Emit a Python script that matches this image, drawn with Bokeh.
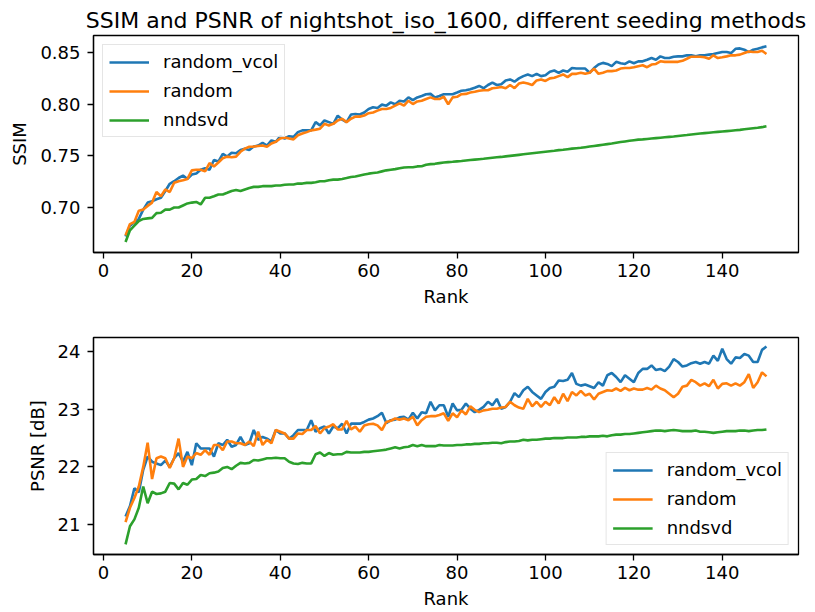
from bokeh.plotting import figure
from bokeh.models import Range1d, FixedTicker, PrintfTickFormatter
from bokeh.layouts import column
from bokeh.embed import file_html
from bokeh.resources import INLINE

ranks = list(range(5, 151))
series_names = ["random_vcol", "random", "nndsvd"]
colors = ["#1f77b4", "#ff7f0e", "#2ca02c"]

ssim_random_vcol = [
    0.672, 0.6825, 0.6857, 0.689, 0.698, 0.7048, 0.706, 0.708, 0.7095, 0.716,
    0.723, 0.7255, 0.7286, 0.731, 0.7277, 0.732, 0.733, 0.7366, 0.738, 0.7366,
    0.746, 0.7445, 0.752, 0.7493, 0.753, 0.7525, 0.7557, 0.757, 0.7557, 0.759,
    0.760, 0.7627, 0.760, 0.765, 0.7636, 0.769, 0.7668, 0.769, 0.7684, 0.773,
    0.7747, 0.7747, 0.7747, 0.7827, 0.7795, 0.7843, 0.7827, 0.781, 0.789, 0.785,
    0.7827, 0.790, 0.7906, 0.790, 0.792, 0.7954, 0.797, 0.7964, 0.7996, 0.7986,
    0.8018, 0.800, 0.8034, 0.8027, 0.8066, 0.804, 0.8066, 0.808, 0.8097, 0.810,
    0.8066, 0.808, 0.8097, 0.8097, 0.8097, 0.8113, 0.813, 0.8135, 0.8145, 0.816,
    0.8177, 0.8155, 0.8186, 0.821, 0.8186, 0.8193, 0.823, 0.824, 0.8218, 0.825,
    0.8272, 0.8288, 0.8272, 0.8294, 0.8272, 0.828, 0.8314, 0.8326, 0.8304, 0.8326,
    0.8314, 0.835, 0.8345, 0.8345, 0.8345, 0.8304, 0.835, 0.8384, 0.840, 0.839,
    0.8368, 0.841, 0.8396, 0.839, 0.8415, 0.8396, 0.8415, 0.8415, 0.843, 0.8447,
    0.843, 0.8463, 0.8447, 0.8447, 0.846, 0.8463, 0.8463, 0.8473, 0.8473, 0.8463,
    0.8473, 0.8473, 0.848, 0.8485, 0.8495, 0.8505, 0.8505, 0.8495, 0.8536, 0.854,
    0.8527, 0.8505, 0.8527, 0.8536, 0.855, 0.856,
]
ssim_random = [
    0.673, 0.684, 0.686, 0.697, 0.698, 0.7016, 0.7048, 0.715, 0.711, 0.7175,
    0.715, 0.724, 0.7255, 0.7264, 0.7277, 0.736, 0.7366, 0.7366, 0.735, 0.743,
    0.7398, 0.7436, 0.7477, 0.7493, 0.7487, 0.7493, 0.754, 0.757, 0.7588, 0.759,
    0.7595, 0.760, 0.7588, 0.762, 0.7636, 0.7668, 0.7677, 0.7668, 0.766, 0.770,
    0.7716, 0.773, 0.7747, 0.7754, 0.7763, 0.781, 0.7795, 0.781, 0.7843, 0.7859,
    0.7827, 0.7859, 0.788, 0.788, 0.789, 0.7913, 0.792, 0.7938, 0.7954, 0.7954,
    0.7964, 0.7986, 0.8008, 0.7986, 0.8034, 0.8002, 0.8027, 0.8034, 0.805, 0.8066,
    0.805, 0.805, 0.8072, 0.800, 0.8066, 0.8072, 0.8097, 0.810, 0.8113, 0.812,
    0.813, 0.8135, 0.8135, 0.8155, 0.816, 0.8167, 0.8155, 0.8186, 0.8155, 0.820,
    0.821, 0.820, 0.8186, 0.823, 0.824, 0.8225, 0.825, 0.8256, 0.8272, 0.8288,
    0.8262, 0.8294, 0.8294, 0.8304, 0.8294, 0.8304, 0.8345, 0.8294, 0.8304, 0.832,
    0.832, 0.8326, 0.8345, 0.835, 0.835, 0.8358, 0.8368, 0.8377, 0.8358, 0.8384,
    0.839, 0.8415, 0.841, 0.841, 0.841, 0.841, 0.842, 0.844, 0.846, 0.846,
    0.846, 0.8454, 0.844, 0.8473, 0.8447, 0.8454, 0.8463, 0.8473, 0.8473, 0.848,
    0.8495, 0.851, 0.8505, 0.8505, 0.8517, 0.8486,
]
ssim_nndsvd = [
    0.6666, 0.678, 0.6825, 0.687, 0.689, 0.6895, 0.690, 0.6946, 0.695, 0.698,
    0.698, 0.700, 0.700, 0.702, 0.704, 0.7048, 0.7054, 0.703, 0.7095, 0.7095,
    0.711, 0.7127, 0.7127, 0.7143, 0.716, 0.7169, 0.716, 0.7175, 0.719, 0.720,
    0.720, 0.7207, 0.7207, 0.7207, 0.7213, 0.7213, 0.722, 0.7223, 0.7223, 0.7232,
    0.7232, 0.7239, 0.7239, 0.7245, 0.7254, 0.7254, 0.7264, 0.727, 0.727, 0.7277,
    0.7286, 0.7296, 0.730, 0.731, 0.732, 0.7328, 0.7334, 0.734, 0.735, 0.736,
    0.7366, 0.7372, 0.738, 0.7388, 0.739, 0.739, 0.7398, 0.740, 0.7414, 0.742,
    0.7423, 0.743, 0.7436, 0.744, 0.7443, 0.7447, 0.745, 0.7455, 0.746, 0.7464,
    0.7468, 0.7472, 0.7477, 0.7482, 0.7487, 0.749, 0.7495, 0.750, 0.7505, 0.751,
    0.7515, 0.752, 0.7525, 0.753, 0.7535, 0.754, 0.7545, 0.755, 0.7556, 0.756,
    0.7565, 0.757, 0.7574, 0.7578, 0.7584, 0.759, 0.7596, 0.7602, 0.7608, 0.7614,
    0.762, 0.7627, 0.7634, 0.764, 0.7646, 0.7652, 0.7657, 0.766, 0.7664, 0.7668,
    0.7672, 0.7676, 0.768, 0.7684, 0.7688, 0.7693, 0.7698, 0.7702, 0.7707, 0.7712,
    0.7716, 0.772, 0.7724, 0.7728, 0.7732, 0.7736, 0.774, 0.7744, 0.7748, 0.7752,
    0.7757, 0.7762, 0.7767, 0.7772, 0.7778, 0.7786,
]

psnr_random_vcol = [
    21.14, 21.32, 21.63, 21.56, 21.95, 22.18, 22.09, 22.06, 22.03, 22.11,
    22.00, 22.15, 22.24, 22.09, 22.26, 22.03, 22.41, 22.32, 22.32, 22.32,
    22.18, 22.41, 22.38, 22.47, 22.35, 22.38, 22.52, 22.38, 22.41, 22.64,
    22.47, 22.52, 22.49, 22.44, 22.64, 22.58, 22.58, 22.49, 22.55, 22.64,
    22.64, 22.64, 22.81, 22.61, 22.67, 22.70, 22.58, 22.70, 22.67, 22.75,
    22.58, 22.75, 22.75, 22.75, 22.78, 22.82, 22.84, 22.88, 22.94, 22.76,
    22.81, 22.82, 22.86, 22.87, 22.82, 22.94, 22.84, 22.95, 22.93, 23.13,
    22.98, 23.07, 23.07, 22.87, 23.10, 22.98, 22.99, 23.10, 23.01, 22.95,
    22.99, 23.04, 23.13, 23.07, 23.18, 23.01, 23.04, 23.13, 23.28, 23.21,
    23.33, 23.39, 23.30, 23.24, 23.18, 23.30, 23.37, 23.39, 23.50, 23.49,
    23.51, 23.63, 23.44, 23.41, 23.43, 23.40, 23.37, 23.47, 23.41, 23.59,
    23.63, 23.56, 23.47, 23.59, 23.53, 23.47, 23.63, 23.70, 23.70, 23.76,
    23.68, 23.70, 23.66, 23.74, 23.87, 23.82, 23.74, 23.76, 23.80, 23.82,
    23.79, 23.82, 23.79, 23.93, 23.84, 24.05, 23.87, 23.79, 23.90, 23.89,
    23.96, 23.93, 23.82, 23.82, 24.03, 24.09,
]
psnr_random = [
    21.04, 21.29, 21.46, 21.66, 22.00, 22.42, 21.79, 22.15, 22.18, 22.15,
    21.98, 22.15, 22.49, 22.00, 22.18, 22.15, 22.24, 22.21, 22.29, 22.21,
    22.38, 22.38, 22.29, 22.44, 22.44, 22.41, 22.41, 22.38, 22.44, 22.36,
    22.61, 22.38, 22.47, 22.41, 22.64, 22.61, 22.58, 22.49, 22.49, 22.58,
    22.57, 22.64, 22.64, 22.71, 22.58, 22.67, 22.70, 22.74, 22.65, 22.65,
    22.80, 22.65, 22.70, 22.61, 22.72, 22.74, 22.75, 22.72, 22.64, 22.78,
    22.80, 22.84, 22.82, 22.84, 22.81, 22.87, 22.72, 22.81, 22.87, 22.88,
    22.88, 22.90, 22.93, 22.80, 22.93, 22.86, 22.98, 22.91, 23.05, 22.99,
    22.95, 22.98, 22.99, 23.01, 23.01, 23.03, 23.04, 23.13, 23.07, 23.03,
    23.01, 23.18, 23.05, 23.13, 23.04, 23.13, 23.07, 23.21, 23.10, 23.27,
    23.14, 23.30, 23.24, 23.32, 23.24, 23.27, 23.17, 23.27, 23.30, 23.33,
    23.32, 23.36, 23.32, 23.37, 23.33, 23.36, 23.34, 23.34, 23.37, 23.34,
    23.41, 23.36, 23.33, 23.27, 23.21, 23.27, 23.39, 23.41, 23.51, 23.47,
    23.41, 23.45, 23.40, 23.51, 23.36, 23.44, 23.45, 23.41, 23.45, 23.41,
    23.47, 23.61, 23.37, 23.47, 23.64, 23.57,
]
psnr_nndsvd = [
    20.655, 20.97, 21.09, 21.29, 21.66, 21.37, 21.57, 21.53, 21.54, 21.57,
    21.72, 21.71, 21.61, 21.72, 21.69, 21.78, 21.79, 21.86, 21.84, 21.89,
    21.90, 21.92, 21.98, 22.00, 21.96, 22.02, 22.07, 22.06, 22.07, 22.12,
    22.11, 22.13, 22.15, 22.15, 22.16, 22.15, 22.15, 22.09, 22.06, 22.05,
    22.07, 22.06, 22.06, 22.22, 22.25, 22.19, 22.24, 22.21, 22.22, 22.22,
    22.26, 22.25, 22.25, 22.25, 22.26, 22.26, 22.27, 22.28, 22.29, 22.30,
    22.32, 22.34, 22.32, 22.34, 22.35, 22.38, 22.36, 22.38, 22.36, 22.36,
    22.36, 22.38, 22.37, 22.37, 22.37, 22.38, 22.38, 22.39, 22.39, 22.40,
    22.40, 22.41, 22.41, 22.42, 22.42, 22.41, 22.43, 22.44, 22.44, 22.45,
    22.47, 22.46, 22.47, 22.47, 22.48, 22.49, 22.49, 22.50, 22.50, 22.50,
    22.51, 22.51, 22.51, 22.52, 22.52, 22.53, 22.53, 22.53, 22.54, 22.53,
    22.55, 22.56, 22.56, 22.57, 22.57, 22.58, 22.59, 22.60, 22.61, 22.62,
    22.63, 22.63, 22.62, 22.63, 22.64, 22.63, 22.62, 22.62, 22.62, 22.63,
    22.61, 22.61, 22.60, 22.59, 22.60, 22.61, 22.62, 22.62, 22.62, 22.63,
    22.63, 22.62, 22.63, 22.64, 22.64, 22.65,
]

x_ticks = [0, 20, 40, 60, 80, 100, 120, 140]
ssim_ticks = [0.70, 0.75, 0.80, 0.85]
psnr_ticks = [21, 22, 23, 24]

FONT = "DejaVu Sans"
TICK_FS = "18px"


def style(p, yticks, yfmt):
    p.xgrid.visible = False
    p.ygrid.visible = False
    p.outline_line_color = "black"
    p.outline_line_width = 1.3
    p.background_fill_color = "white"
    p.border_fill_color = "white"
    p.xaxis.ticker = FixedTicker(ticks=x_ticks)
    p.yaxis.ticker = FixedTicker(ticks=yticks)
    p.yaxis.formatter = PrintfTickFormatter(format=yfmt)
    for ax in (p.xaxis[0], p.yaxis[0]):
        ax.axis_line_color = "black"
        ax.axis_line_width = 1.3
        ax.major_tick_line_color = "black"
        ax.major_tick_line_width = 1.3
        ax.major_tick_out = 6
        ax.major_tick_in = 0
        ax.minor_tick_out = 0
        ax.minor_tick_in = 0
        ax.major_label_text_font = FONT
        ax.major_label_text_font_size = TICK_FS
        ax.major_label_text_color = "black"
        ax.axis_label_text_font = FONT
        ax.axis_label_text_font_size = TICK_FS
        ax.axis_label_text_font_style = "normal"
        ax.axis_label_text_color = "black"
    p.xaxis.axis_label_standoff = 6
    p.xaxis.major_label_standoff = 5
    p.yaxis.axis_label_standoff = 7
    p.yaxis.major_label_standoff = 7


def style_legend(p, loc):
    lg = p.legend[0]
    lg.location = loc
    lg.label_text_font = FONT
    lg.label_text_font_size = TICK_FS
    lg.label_text_color = "black"
    lg.glyph_width = 40
    lg.glyph_height = 20
    lg.label_height = 20
    lg.label_standoff = 14
    lg.spacing = 8
    lg.padding = 6
    lg.margin = 9
    lg.border_line_color = "#cccccc"
    lg.border_line_width = 1.3
    lg.background_fill_color = "white"
    lg.background_fill_alpha = 0.8


p1 = figure(width=815, height=309,
            x_range=Range1d(-2.25, 157.25), y_range=Range1d(0.6565, 0.8665),
            output_backend="svg", toolbar_location=None,
            min_border_left=93, min_border_right=17,
            min_border_top=35, min_border_bottom=56,
            title="SSIM and PSNR of nightshot_iso_1600, different seeding methods",
            x_axis_label="Rank", y_axis_label="SSIM")
p1.title.align = "center"
p1.title.text_font = FONT
p1.title.text_font_size = "22px"
p1.title.text_font_style = "normal"
p1.title.text_color = "black"
p1.title.standoff = 6

for name, col, ys in zip(series_names, colors, [ssim_random_vcol, ssim_random, ssim_nndsvd]):
    p1.line(ranks, ys, line_color=col, line_width=2.6, legend_label=name)
style(p1, ssim_ticks, "%.2f")
style_legend(p1, "top_left")

p2 = figure(width=815, height=303,
            x_range=Range1d(-2.25, 157.25), y_range=Range1d(20.48, 24.245),
            output_backend="svg", toolbar_location=None,
            min_border_left=93, min_border_right=17,
            min_border_top=28, min_border_bottom=58,
            x_axis_label="Rank", y_axis_label="PSNR [dB]")
for name, col, ys in zip(series_names, colors, [psnr_random_vcol, psnr_random, psnr_nndsvd]):
    p2.line(ranks, ys, line_color=col, line_width=2.6, legend_label=name)
style(p2, psnr_ticks, "%d")
style_legend(p2, "bottom_right")

layout = column(p1, p2, spacing=0)
open("out.html", "w").write(file_html(layout, INLINE))
